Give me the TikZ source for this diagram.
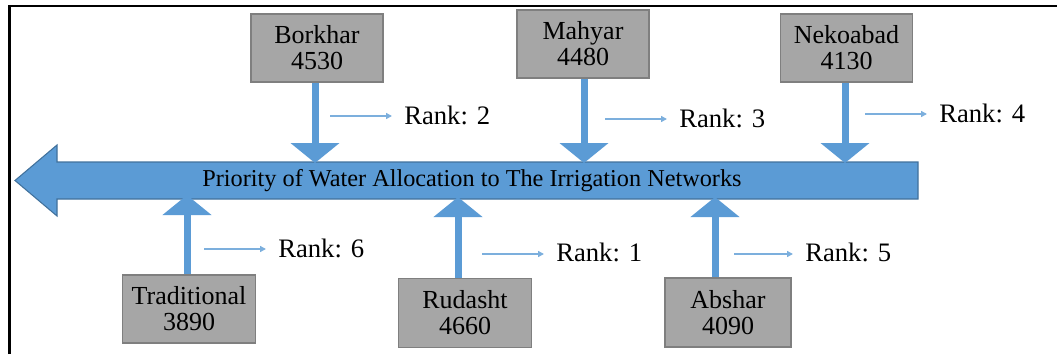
\documentclass[tikz,border=0pt]{standalone}
\usepackage{fontspec}
\setmainfont{Liberation Serif}
\usetikzlibrary{arrows.meta,calc}
\definecolor{mblue}{HTML}{5B9BD5}
\definecolor{mbluedark}{HTML}{41719C}
\definecolor{boxgray}{HTML}{A6A6A6}
\definecolor{boxedge}{HTML}{7F7F7F}
\begin{document}
\begin{tikzpicture}[x=0.75pt,y=-0.75pt,
  station/.style={draw=boxedge,line width=1.1pt,fill=boxgray,minimum width=99pt,minimum height=51pt,
    align=center,inner sep=0pt,font=\fontsize{19.5}{19.5}\selectfont},
  feed/.style={draw=mblue,line width=5.25pt,-{Triangle[width=36pt,length=15pt,fill=mblue]}},
  rankarrow/.style={draw=mblue!80,line width=1.1pt,-{Triangle[width=4.5pt,length=4.5pt]},shorten >=9pt},
  ranklabel/.style={anchor=west,inner sep=0pt,font=\fontsize{20}{22}\selectfont}]
\useasboundingbox (0,0) rectangle (1057,354);
% frame
\draw[line width=2.2pt] (9.5,354) -- (9.5,6) -- (1057,6);
% main arrow
\draw[fill=mblue,draw=mbluedark,line width=0.8pt] (15,180.5) -- (57,145) -- (57,162) -- (918,162)
  -- (918,199) -- (57,199) -- (57,216) -- cycle;
\node (title) at (472,181) {\fontsize{18.2}{19}\selectfont Priority of Water Allocation to The Irrigation Networks};
% stations
\node[station] (borkhar) at (317,48) {Borkhar\\4530};
\node[station] (mahyar) at (583,44) {Mahyar\\4480};
\node[station] (nekoabad) at (846.5,48) {Nekoabad\\4130};
\node[station,minimum width=100pt] (traditional) at (189,309) {Traditional\\3890};
\node[station,minimum width=100pt,minimum height=52pt] (rudasht) at (465,313) {Rudasht\\4660};
\node[station,minimum width=94.5pt,minimum height=52pt] (abshar) at (728,312.5) {Abshar\\4090};
% arrow tips on the main arrow
\coordinate (t1) at (315,163);
\coordinate (t2) at (584,163);
\coordinate (t3) at (845,163);
\coordinate (t4) at (187,195);
\coordinate (t5) at (458,197);
\coordinate (t6) at (715,197);
\draw[feed] (borkhar.south -| t1) -- (t1);
\draw[feed] (mahyar.south -| t2) -- (t2);
\draw[feed] (nekoabad.south -| t3) -- (t3);
\draw[feed] (traditional.north -| t4) -- (t4);
\draw[feed] (rudasht.north -| t5) -- (t5);
\draw[feed] (abshar.north -| t6) -- (t6);
% rank labels
\node[ranklabel] (r2) at (404,115) {Rank: 2};
\node[ranklabel] (r3) at (679,118) {Rank: 3};
\node[ranklabel] (r4) at (939,113) {Rank: 4};
\node[ranklabel] (r6) at (278,248) {Rank: 6};
\node[ranklabel] (r1) at (556,252) {Rank: 1};
\node[ranklabel] (r5) at (805,252) {Rank: 5};
\coordinate (a2) at (330,116);
\coordinate (a3) at (605,119);
\coordinate (a4) at (865,114);
\coordinate (a6) at (204,249);
\coordinate (a1) at (482,254);
\coordinate (a5) at (734,254);
\draw[rankarrow] (a2) -- (a2 -| r2.west);
\draw[rankarrow] (a3) -- (a3 -| r3.west);
\draw[rankarrow] (a4) -- (a4 -| r4.west);
\draw[rankarrow] (a6) -- (a6 -| r6.west);
\draw[rankarrow] (a1) -- (a1 -| r1.west);
\draw[rankarrow] (a5) -- (a5 -| r5.west);
\end{tikzpicture}
\end{document}
